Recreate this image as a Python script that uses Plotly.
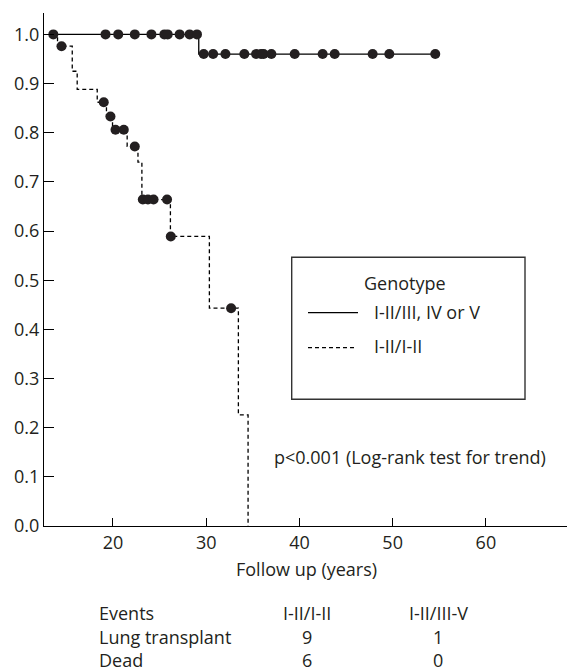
import plotly.graph_objects as go

# ---- data ----
# I-II/III, IV or V (solid): Kaplan-Meier steps
solid_step_t = [13.6, 29.2, 54.6]
solid_step_s = [1.0, 0.96, 0.96]
# censored observations (dots)
solid_cens_t = [13.6, 19.2, 20.56, 22.34, 24.12, 25.51, 25.87, 27.15, 28.22, 29.01,
                29.73, 30.74, 32.06, 34.09, 35.35, 35.88, 36.16, 36.99, 39.49, 42.49,
                43.78, 47.85, 49.64, 54.57]
solid_cens_s = [1.0] * 10 + [0.96] * 14

# I-II/I-II (dashed)
dash_step_t = [13.6, 14.05, 15.63, 16.16, 18.31, 19.3, 19.95, 21.52, 22.68, 23.1,
               26.16, 30.34, 33.45, 34.49]
dash_step_s = [1.0, 0.976, 0.925, 0.888, 0.862, 0.833, 0.806, 0.772, 0.74, 0.664,
               0.589, 0.443, 0.226, 0.0]
dash_cens_t = [14.48, 19.01, 19.73, 20.27, 21.16, 22.34, 23.2, 23.75, 24.35, 25.8, 26.2, 32.67]
dash_cens_s = [0.976, 0.862, 0.833, 0.806, 0.806, 0.772, 0.664, 0.664, 0.664, 0.664, 0.589, 0.443]

x_ticks = [20, 30, 40, 50, 60]
y_ticks = [0.0, 0.1, 0.2, 0.3, 0.4, 0.5, 0.6, 0.7, 0.8, 0.9, 1.0]

legend_title = "Genotype"
legend_labels = ["I-II/III, IV or V", "I-II/I-II"]
p_text = "p<0.001 (Log-rank test for trend)"
x_title = "Follow up (years)"

table_header = ["Events", "I-II/I-II", "I-II/III-V"]
table_rows = ["Lung transplant", "Dead"]
table_col1 = [9, 6]
table_col2 = [1, 0]

FONT = "Open Sans"
TXT = "#231f20"
FS = 18

fig = go.Figure()
fig.add_trace(go.Scatter(x=solid_step_t, y=solid_step_s, mode="lines", line_shape="hv",
                         line=dict(color="black", width=1.3), showlegend=False))
fig.add_trace(go.Scatter(x=dash_step_t, y=dash_step_s, mode="lines", line_shape="hv",
                         line=dict(color="black", width=1.3, dash="4px,3px"), showlegend=False))
fig.add_trace(go.Scatter(x=solid_cens_t, y=solid_cens_s, mode="markers",
                         marker=dict(color="#231f20", size=10), showlegend=False))
fig.add_trace(go.Scatter(x=dash_cens_t, y=dash_cens_s, mode="markers",
                         marker=dict(color="#231f20", size=10), showlegend=False))

W, H = 567, 671
L, R, T, B = 44, 0, 13, 145
pw, ph = W - L - R, H - T - B


def px(x):
    return (x - L) / pw


def py(y):
    return (H - B - y) / ph


shapes = [
    dict(type="rect", xref="paper", yref="paper", x0=px(291.7), x1=px(525), y0=py(399.3), y1=py(257.3),
         line=dict(color="#333", width=1.4)),
    dict(type="line", xref="paper", yref="paper", x0=px(308), x1=px(358), y0=py(312.7), y1=py(312.7),
         line=dict(color="black", width=1.2)),
    dict(type="line", xref="paper", yref="paper", x0=px(308), x1=px(355), y0=py(347.7), y1=py(347.7),
         line=dict(color="black", width=1.2, dash="4px,3px")),
]

ann = []


def text(x, y, s, anchor="left"):
    ann.append(dict(x=px(x), y=py(y), xref="paper", yref="paper", text=s, showarrow=False,
                    xanchor=anchor, yanchor="middle", font=dict(family=FONT, size=FS, color=TXT)))


text(405, 283.3, legend_title, "center")
text(371.7, 312, legend_labels[0])
text(371.7, 346, legend_labels[1])
text(271.7, 456.7, p_text)
text(306.5, 568.8, x_title, "center")

row_y = [613, 636.5, 659.5]
text(97.3, row_y[0], table_header[0])
text(306.7, row_y[0], table_header[1], "center")
text(438, row_y[0], table_header[2], "center")
for i, name in enumerate(table_rows):
    text(97.3, row_y[i + 1], name)
    text(306.7, row_y[i + 1], str(table_col1[i]), "center")
    text(438, row_y[i + 1], str(table_col2[i]), "center")

fig.update_layout(
    width=W, height=H, margin=dict(l=L, r=R, t=T, b=B),
    paper_bgcolor="white", plot_bgcolor="white",
    font=dict(family=FONT, size=FS, color=TXT),
    shapes=shapes, annotations=ann,
    xaxis=dict(range=[12.6, 68.7], tickvals=x_ticks, ticks="inside", ticklen=8, tickwidth=1.2,
               tickcolor="black", showline=True, linecolor="black", linewidth=1.4,
               showgrid=False, zeroline=False, tickfont=dict(family=FONT, size=FS, color=TXT)),
    yaxis=dict(range=[0, 1.0435], tickvals=y_ticks, tickformat=".1f", ticks="inside", ticklen=10,
               tickwidth=1.2, tickcolor="black", showline=True, linecolor="black", linewidth=1.4,
               showgrid=False, zeroline=False, tickfont=dict(family=FONT, size=FS, color=TXT)),
)

fig.write_html("out.html", config={"displayModeBar": False},
               post_script="document.body.style.margin='0px';")
